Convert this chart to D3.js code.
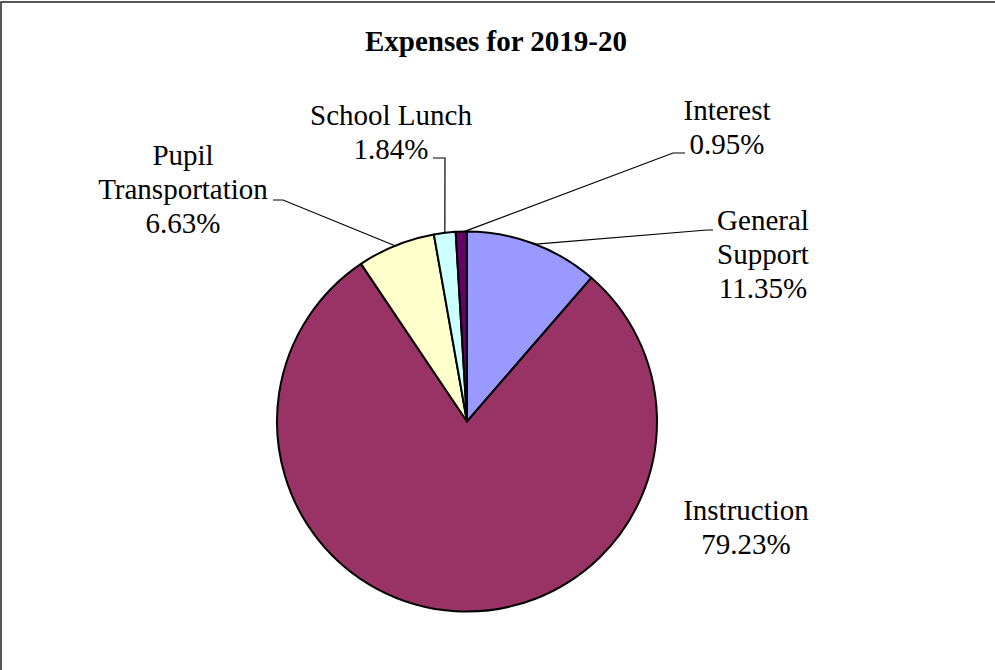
<!DOCTYPE html>
<html>
<head>
<meta charset="utf-8">
<script src="https://cdn.jsdelivr.net/npm/d3@7"></script>
<style>
  html, body { margin: 0; padding: 0; background: #fff; }
  svg { display: block; }
  text { font-family: "Liberation Serif", "Times New Roman", serif; fill: #000; }
</style>
</head>
<body>
<svg id="chart" width="995" height="670"></svg>
<script>
// ---- data ----
const categories = ["General Support", "Instruction", "Pupil Transportation", "School Lunch", "Interest"];
const values = [11.35, 79.23, 6.63, 1.84, 0.95];
const labelLines = [["General", "Support"], ["Instruction"], ["Pupil", "Transportation"], ["School Lunch"], ["Interest"]];
const colors = ["#9999FF", "#993366", "#FFFFCC", "#CCFFFF", "#660066"];
const title = "Expenses for 2019-20";

// ---- layout (label anchor positions, leader elbow) ----
const labelLayout = [
  { x: 763, y: 230, start: [713, 230], elbow: [707, 230], hasLeader: true },
  { x: 746, y: 520, hasLeader: false },
  { x: 183, y: 165, start: [273, 200], elbow: [283, 200], hasLeader: true },
  { x: 391, y: 125, start: [433, 158], elbow: [445, 158], hasLeader: true },
  { x: 727, y: 120, start: [685, 153], elbow: [673, 153], hasLeader: true }
];

const W = 995, H = 670;
const cx = 467, cy = 421.5, R = 190;
const lineH = 34;
const fs = 29;

const svg = d3.select("#chart");

// frame
svg.append("rect")
  .attr("x", 1).attr("y", 2)
  .attr("width", W + 20).attr("height", H + 20)
  .attr("fill", "none").attr("stroke", "#222").attr("stroke-width", 1.5);

// title
svg.append("text")
  .attr("x", 496).attr("y", 51)
  .attr("text-anchor", "middle")
  .attr("font-weight", "bold")
  .attr("font-size", 29)
  .text(title);

const data = categories.map((c, i) => ({ name: c, value: values[i], color: colors[i], lines: labelLines[i], layout: labelLayout[i] }));

const pie = d3.pie().sort(null).value(d => d.value);
const arcs = pie(data);
const arc = d3.arc().innerRadius(0).outerRadius(R);

const g = svg.append("g").attr("transform", `translate(${cx},${cy})`);

g.selectAll("path.slice")
  .data(arcs)
  .enter().append("path")
  .attr("class", "slice")
  .attr("d", arc)
  .attr("fill", d => d.data.color)
  .attr("stroke", "#000")
  .attr("stroke-width", 2)
  .attr("stroke-linejoin", "round");

// leader lines
arcs.forEach(a => {
  const L = a.data.layout;
  if (!L.hasLeader) return;
  const mid = (a.startAngle + a.endAngle) / 2;
  const ex = cx + (R - 1) * Math.sin(mid);
  const ey = cy - (R - 1) * Math.cos(mid);
  svg.append("polyline")
    .attr("points", [L.start, L.elbow, [ex, ey]].map(p => p.join(",")).join(" "))
    .attr("fill", "none")
    .attr("stroke", "#000")
    .attr("stroke-width", 1.2);
});

// labels
arcs.forEach(a => {
  const L = a.data.layout;
  const lines = a.data.lines.concat([d3.format(".2f")(a.data.value) + "%"]);
  const t = svg.append("text")
    .attr("text-anchor", "middle")
    .attr("font-size", fs);
  lines.forEach((ln, i) => {
    t.append("tspan")
      .attr("x", L.x)
      .attr("y", L.y + i * lineH)
      .text(ln);
  });
});
</script>
</body>
</html>
